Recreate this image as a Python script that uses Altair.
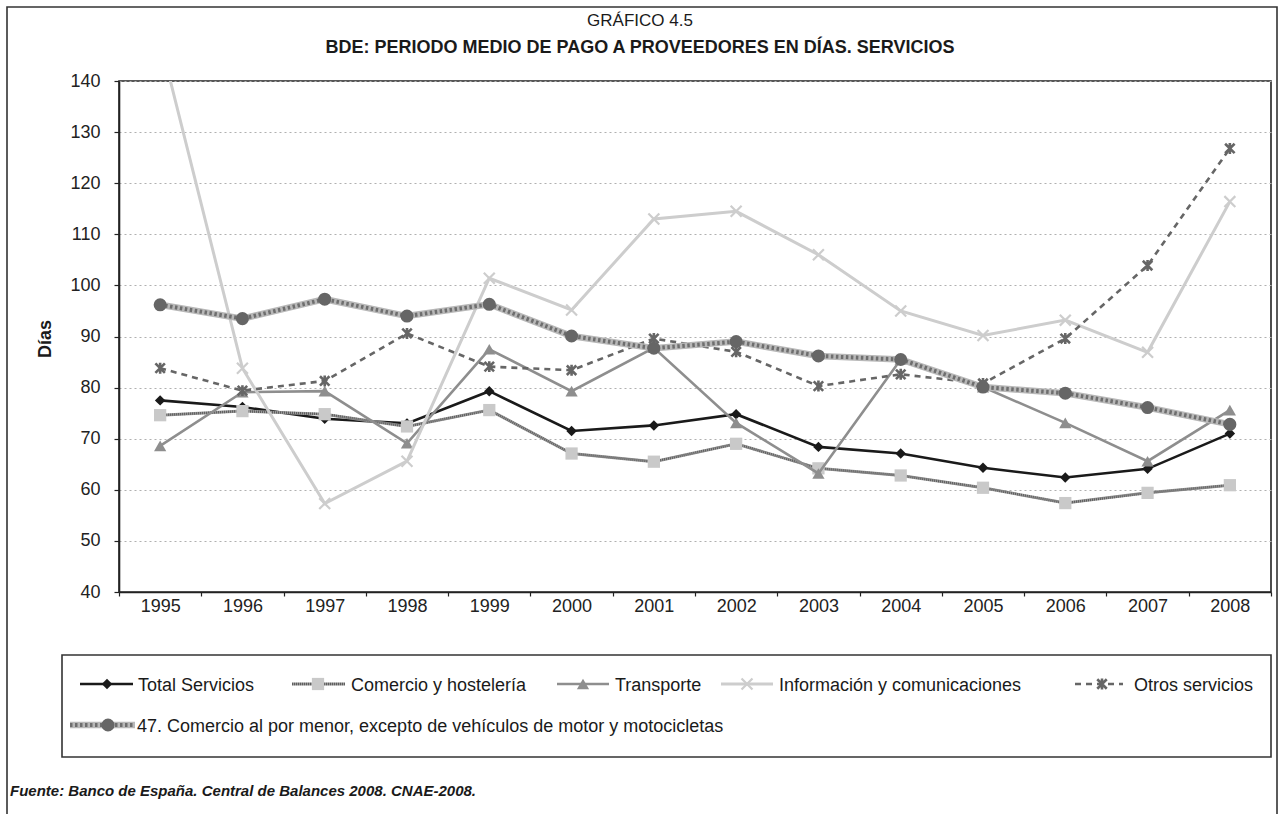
import altair as alt
import pandas as pd

# ---- data (días) ----
years = [str(y) for y in range(1995, 2009)]
total_servicios = [77.5, 76.2, 73.9, 73.0, 79.3, 71.5, 72.6, 74.8, 68.4, 67.1, 64.3, 62.4, 64.1, 71.0]
comercio_hosteleria = [74.6, 75.4, 74.8, 72.4, 75.6, 67.1, 65.5, 69.0, 64.2, 62.8, 60.4, 57.4, 59.4, 60.9]
transporte = [68.6, 79.1, 79.3, 69.1, 87.5, 79.3, 87.8, 73.1, 63.2, 85.5, 80.1, 73.1, 65.6, 75.6]
informacion = [148.0, 83.8, 57.3, 65.6, 101.4, 95.2, 113.0, 114.5, 106.0, 95.0, 90.2, 93.2, 86.9, 116.4]
otros_servicios = [83.8, 79.4, 81.3, 90.6, 84.1, 83.4, 89.6, 87.0, 80.3, 82.6, 80.8, 89.6, 103.9, 126.8]
comercio_menor = [96.2, 93.5, 97.3, 94.0, 96.3, 90.1, 87.7, 89.0, 86.2, 85.5, 80.1, 78.9, 76.1, 72.8]

series_names = [
    "Total Servicios",
    "Comercio y hostelería",
    "Transporte",
    "Información y comunicaciones",
    "Otros servicios",
    "47. Comercio al por menor, excepto de vehículos de motor y motocicletas",
]
series_values = [total_servicios, comercio_hosteleria, transporte,
                 informacion, otros_servicios, comercio_menor]

rows = []
for name, vals in zip(series_names, series_values):
    for y, v in zip(years, vals):
        rows.append({"serie": name, "anio": y, "dias": v})
df = pd.DataFrame(rows)

FONT = "Liberation Sans, Arial, Helvetica, sans-serif"
W, H = 1152, 511

X_MARK = "M-1,-1L1,1M-1,1L1,-1"
STAR_MARK = "M-1,-1L1,1M-1,1L1,-1M0,-1.15L0,1.15"

# line / marker style for every series
styles = {
    series_names[0]: dict(lines=[dict(color="#1a1a1a", strokeWidth=2.6)],
                          point=dict(shape="diamond", filled=True, color="#1a1a1a", size=110, opacity=1)),
    series_names[1]: dict(lines=[dict(color="#9a9a9a", strokeWidth=3),
                                 dict(color="#5e5e5e", strokeWidth=2.4, strokeDash=[1, 1])],
                          point=dict(shape="square", filled=True, color="#c9c9c9", size=150, opacity=1)),
    series_names[2]: dict(lines=[dict(color="#8e8e8e", strokeWidth=2.6)],
                          point=dict(shape="triangle-up", filled=True, color="#8e8e8e", size=150, opacity=1)),
    series_names[3]: dict(lines=[dict(color="#cdcdcd", strokeWidth=3)],
                          point=dict(shape=X_MARK, filled=False, color="#cdcdcd", size=120,
                                     strokeWidth=2.2, opacity=1)),
    series_names[4]: dict(lines=[dict(color="#666666", strokeWidth=2.6, strokeDash=[6, 5])],
                          point=dict(shape=STAR_MARK, filled=False, color="#666666", size=90,
                                     strokeWidth=2.6, opacity=1)),
    series_names[5]: dict(lines=[dict(color="#b8b8b8", strokeWidth=6.5),
                                 dict(color="#6e6e6e", strokeWidth=4, strokeDash=[2.5, 2.5])],
                          point=dict(shape="circle", filled=True, color="#666666", size=170, opacity=1)),
}

x_enc = alt.X("anio:O", title=None,
              scale=alt.Scale(type="band", paddingInner=0, paddingOuter=0),
              axis=alt.Axis(labelAngle=0, tickBand="extent", tickSize=4, labelPadding=1,
                            labelFontSize=18, labelFont=FONT, labelColor="#222222",
                            domainColor="#222222", domainWidth=1.6,
                            tickColor="#222222", tickWidth=1.2, grid=False))
y_enc = alt.Y("dias:Q", title=None,
              scale=alt.Scale(domain=[40, 140], nice=False, zero=False),
              axis=alt.Axis(values=list(range(40, 141, 10)), tickSize=5, labelPadding=14,
                            labelFontSize=18, labelFont=FONT, labelColor="#222222",
                            domainColor="#222222", domainWidth=1.6,
                            tickColor="#222222", tickWidth=1.2,
                            grid=True, gridColor="#b0b0b0", gridDash=[2, 3], gridWidth=1))

layers = []
for i, name in enumerate(series_names):
    st = styles[name]
    base = alt.Chart(df).transform_filter(alt.datum.serie == name)
    for ln in st["lines"]:
        layers.append(base.mark_line(clip=True, **ln).encode(x=x_enc, y=y_enc))
    layers.append(base.mark_point(clip=True, **st["point"]).encode(x=x_enc, y=y_enc))

# ---- frame, titles, legend and source (pixel positions relative to the plot area) ----
one = pd.DataFrame({"k": [0]})
deco = alt.Chart(one)

def text(t, x, y, size=18, weight="normal", style="normal", align="left", angle=0, color="#1a1a1a"):
    return deco.mark_text(text=t, font=FONT, fontSize=size, fontWeight=weight, fontStyle=style,
                          align=align, baseline="alphabetic" if angle == 0 else "middle",
                          angle=angle, color=color).encode(x=alt.value(x), y=alt.value(y))

outer = deco.mark_rect(fillOpacity=0, stroke="#333333", strokeWidth=1.6).encode(
    x=alt.value(-112), x2=alt.value(1158), y=alt.value(-74), y2=alt.value(760))
legend_box = deco.mark_rect(fillOpacity=0, stroke="#333333", strokeWidth=1.6).encode(
    x=alt.value(-57), x2=alt.value(1152), y=alt.value(574), y2=alt.value(676))

deco_layers = [outer, legend_box,
               text("GRÁFICO 4.5", 521, -55, size=17, align="center"),
               text("BDE: PERIODO MEDIO DE PAGO A PROVEEDORES EN DÍAS. SERVICIOS", 521, -28,
                    size=18, weight="bold", align="center"),
               text("Días", -73, 258, size=18, weight="bold", align="center", angle=270),
               text("Fuente: Banco de España. Central de Balances 2008. CNAE-2008.", -109, 715,
                    size=15, weight="bold", style="italic")]

# legend entries: (line start, line end, marker x, text x, row y)
legend_pos = [(-39, 14, -12, 19, 603),
              (173, 226, 199, 232, 603),
              (438, 490, 464, 496, 603),
              (602, 654, 628, 660, 603),
              (956, 1004, 983, 1015, 603),
              (-49, 16, -11, 18, 644)]
for name, (x1, x2, xm, xt, yy) in zip(series_names, legend_pos):
    st = styles[name]
    for ln in st["lines"]:
        deco_layers.append(deco.mark_rule(**ln).encode(x=alt.value(x1), x2=alt.value(x2), y=alt.value(yy)))
    deco_layers.append(deco.mark_point(**st["point"]).encode(x=alt.value(xm), y=alt.value(yy)))
    deco_layers.append(text(name, xt, yy + 6.5, size=18))

chart = alt.layer(*layers, *deco_layers).properties(
    width=W, height=H,
    autosize=alt.AutoSizeParams(type="none"),
    padding={"left": 119, "top": 81, "right": 8, "bottom": 222},
    background="white",
).configure_view(stroke="#222222", strokeWidth=1.6)

chart.save("out.html", embed_options={"renderer": "svg", "actions": False})
